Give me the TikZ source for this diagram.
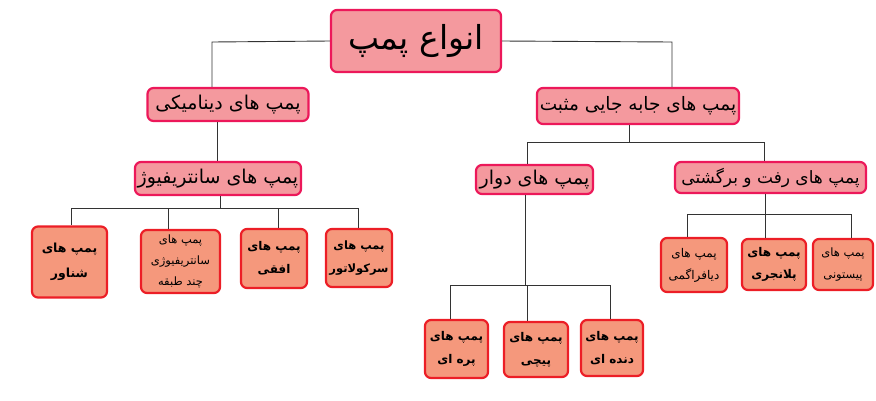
\documentclass[tikz,border=0pt]{standalone}
\usepackage{fontspec}
\newfontfamily\fafont[Script=Arabic]{DejaVu Sans}
\TeXXeTstate=1
\newcommand{\fa}[1]{{\fafont\beginR #1\endR}}
\definecolor{topfill}{RGB}{244,153,158}
\definecolor{topdraw}{RGB}{236,24,90}
\definecolor{leaffill}{RGB}{245,152,124}
\definecolor{leafdraw}{RGB}{236,30,38}
\definecolor{conncol}{RGB}{51,51,51}
\tikzset{
  topbox/.style={draw=topdraw, fill=topfill, line width=2.2pt, rounded corners=6pt, inner sep=1pt, align=center, font=\fontsize{19}{22}\selectfont},
  leafbox/.style={draw=leafdraw, fill=leaffill, line width=2.2pt, rounded corners=6pt, inner sep=1pt, align=center, font=\fontsize{12}{22}\selectfont},
  conn/.style={draw=conncol, line width=0.9pt},
}
\begin{document}
\begin{tikzpicture}[x=1pt,y=-1pt]
\useasboundingbox (0,0) rectangle (876,400);
\coordinate (rl) at (212,42);
\coordinate (rr) at (672,42);
\coordinate (dc) at (217,130);
\coordinate (cb) at (220,208);
\coordinate (b1) at (71,208);
\coordinate (b2) at (168,208);
\coordinate (b3) at (278,208);
\coordinate (b4) at (358,208);
\coordinate (pb) at (629,142);
\coordinate (p1) at (527,142);
\coordinate (p2) at (764,142);
\coordinate (rb) at (525,285);
\coordinate (r1) at (450,285);
\coordinate (r2) at (527,285);
\coordinate (r3) at (610,285);
\coordinate (qb) at (765,214);
\coordinate (q1) at (687,214);
\coordinate (q2) at (765,214);
\coordinate (q3) at (851,214);

% nodes
\node[topbox, minimum width=170pt, minimum height=62pt, font=\fontsize{33}{36}\selectfont] (root) at (416,41) {\fa{انواع  پمپ}};
\node[topbox, minimum width=161pt, minimum height=33pt] (dyn) at (228,104.5) {\fa{پمپ های دینامیکی}};
\node[topbox, minimum width=202pt, minimum height=36pt, font=\fontsize{18.5}{22}\selectfont] (pos) at (638,106) {\fa{پمپ های جابه جایی مثبت}};
\node[topbox, minimum width=166pt, minimum height=33pt] (cent) at (218,178.5) {\fa{پمپ های سانتریفیوژ}};
\node[topbox, minimum width=117pt, minimum height=29pt] (rot) at (534.5,179.5) {\fa{پمپ های دوار}};
\node[topbox, minimum width=191pt, minimum height=31pt, font=\fontsize{17}{20}\selectfont] (rec) at (770.5,177.5) {\fa{پمپ های رفت و برگشتی}};

\node[leafbox, minimum width=75pt, minimum height=71pt, font=\bfseries\fontsize{12.5}{25}\selectfont] (shen) at (69.5,262) {\fa{پمپ های}\\\fa{شناور}};
\node[leafbox, minimum width=79pt, minimum height=63pt, font=\fontsize{11.5}{21}\selectfont] (multi) at (180.5,261.5) {\fa{پمپ های}\\\fa{سانتریفیوژی}\\\fa{چند طبقه}};
\node[leafbox, minimum width=66pt, minimum height=59pt, font=\bfseries\fontsize{12}{23}\selectfont] (ofog) at (274,258.5) {\fa{پمپ های}\\\fa{افقی}};
\node[leafbox, minimum width=66pt, minimum height=58pt, font=\bfseries\fontsize{11.5}{23}\selectfont] (circ) at (359,258) {\fa{پمپ های}\\\fa{سرکولاتور}};
\node[leafbox, minimum width=66pt, minimum height=54pt, font=\fontsize{12}{22}\selectfont] (diaph) at (694,265) {\fa{پمپ های}\\\fa{دیافراگمی}};
\node[leafbox, minimum width=64pt, minimum height=51pt, font=\bfseries\fontsize{12}{22}\selectfont] (plun) at (774,264.5) {\fa{پمپ های}\\\fa{پلانجری}};
\node[leafbox, minimum width=60pt, minimum height=51pt, font=\fontsize{11.5}{22}\selectfont] (pist) at (843,264.5) {\fa{پمپ های}\\\fa{پیستونی}};
\node[leafbox, minimum width=63pt, minimum height=58pt, font=\bfseries\fontsize{12}{23}\selectfont] (vane) at (456.5,349) {\fa{پمپ های}\\\fa{پره ای}};
\node[leafbox, minimum width=64pt, minimum height=55pt, font=\bfseries\fontsize{12}{23}\selectfont] (screw) at (536,349.5) {\fa{پمپ های}\\\fa{پیچی}};
\node[leafbox, minimum width=62pt, minimum height=56pt, font=\bfseries\fontsize{12}{23}\selectfont] (gear) at (612,348) {\fa{پمپ های}\\\fa{دنده ای}};

% connectors
\draw[conn] (root.west) -- (rl) -- (dyn.north -| rl);
\draw[conn] (root.east) -- (rr) -- (pos.north -| rr);
\draw[conn] (dyn.south -| dc) -- (cent.north -| dc);
\draw[conn] (cent.south -| cb) -- (cb);
\draw[conn] (b1) -- (b4);
\draw[conn] (b1) -- (shen.north -| b1);
\draw[conn] (b2) -- (multi.north -| b2);
\draw[conn] (b3) -- (ofog.north -| b3);
\draw[conn] (b4) -- (circ.north -| b4);
\draw[conn] (pos.south -| pb) -- (pb);
\draw[conn] (p1) -- (p2);
\draw[conn] (p1) -- (rot.north -| p1);
\draw[conn] (p2) -- (rec.north -| p2);
\draw[conn] (rot.south -| rb) -- (rb);
\draw[conn] (r1) -- (r3);
\draw[conn] (r1) -- (vane.north -| r1);
\draw[conn] (r2) -- (screw.north -| r2);
\draw[conn] (r3) -- (gear.north -| r3);
\draw[conn] (rec.south -| qb) -- (qb);
\draw[conn] (q1) -- (q3);
\draw[conn] (q1) -- (diaph.north -| q1);
\draw[conn] (q2) -- (plun.north -| q2);
\draw[conn] (q3) -- (pist.north -| q3);
\end{tikzpicture}
\end{document}
